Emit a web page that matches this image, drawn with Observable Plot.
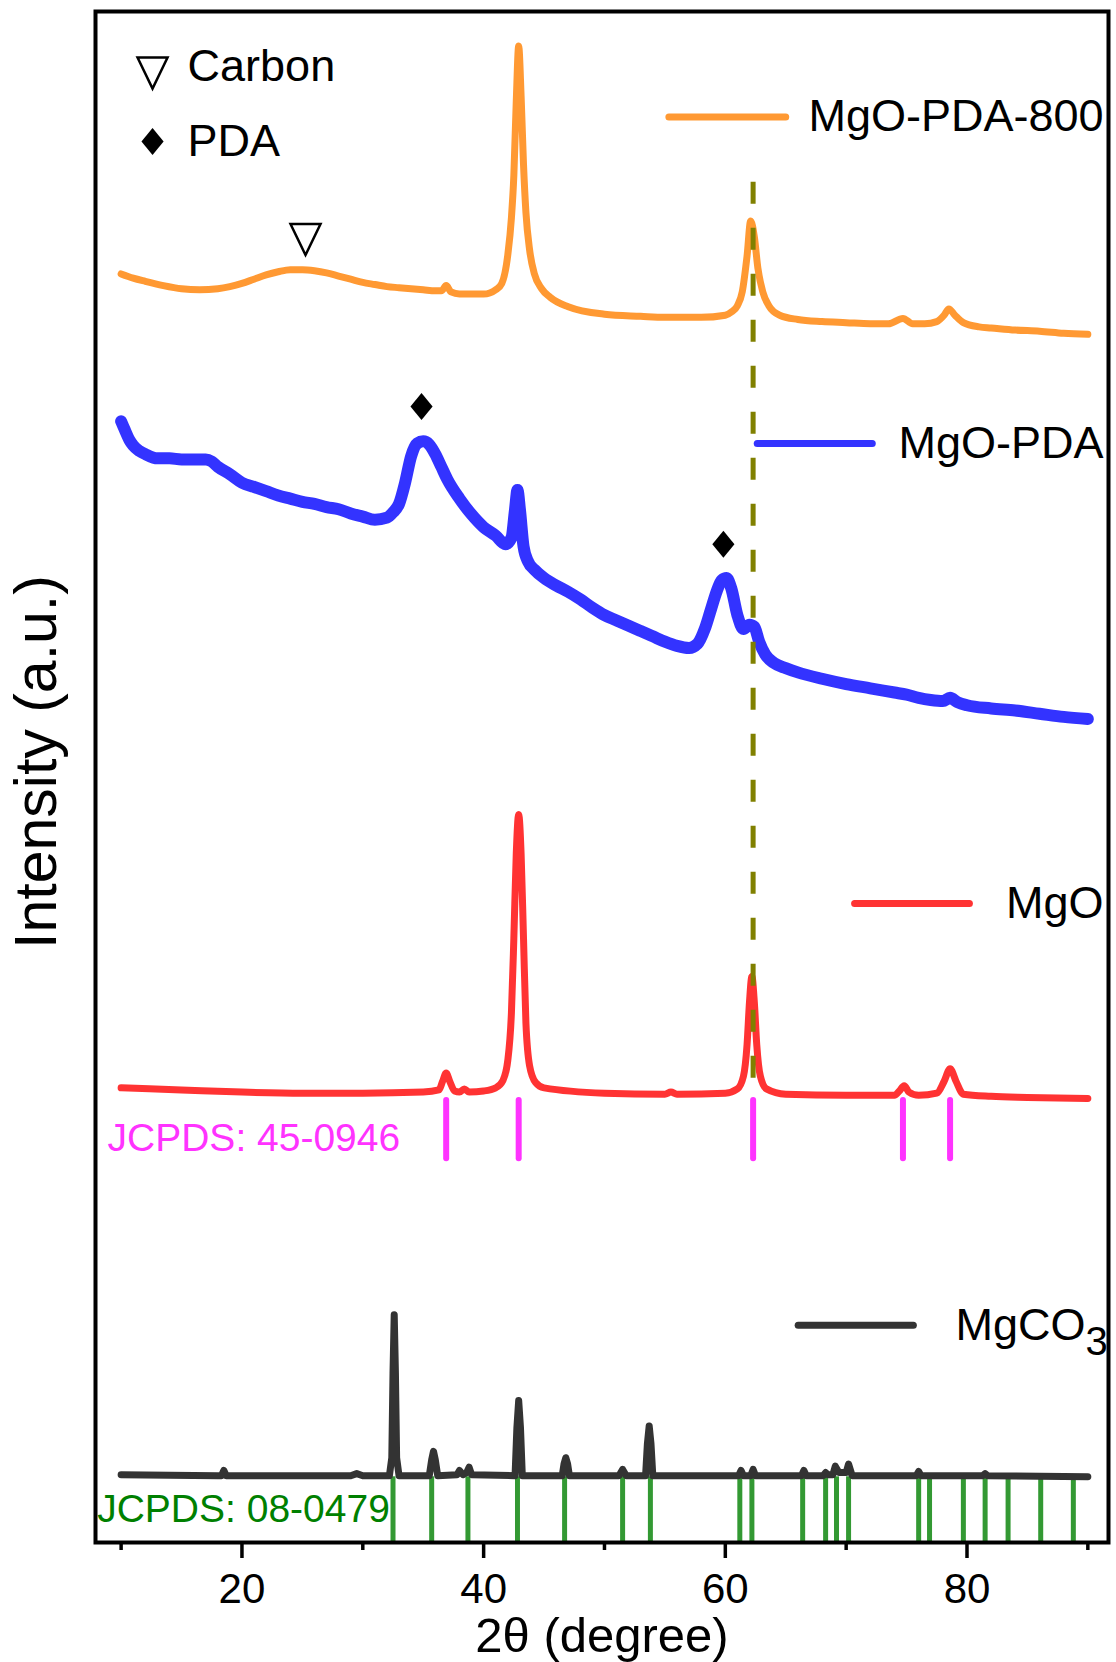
<!DOCTYPE html>
<html>
<head>
<meta charset="utf-8">
<script src="https://cdn.jsdelivr.net/npm/d3@7"></script>
<script src="https://cdn.jsdelivr.net/npm/@observablehq/plot@0.6"></script>
<style>
  html, body { margin: 0; padding: 0; background: #fff; }
</style>
</head>
<body>
<div id="chart"></div>
<script>
// ---------- data (2θ in degrees, intensity in arbitrary units, curves already offset) ----------
const angle800 = [10, 11, 12, 13.5, 15, 16.5, 18, 19, 20, 21, 22, 23, 24, 25, 26, 27, 28, 29, 30, 31, 32, 33, 34, 35, 36, 36.5, 36.9, 37.3, 38, 39, 40, 40.5, 41, 41.5, 42, 42.3, 42.5, 42.7, 42.9, 43.1, 43.3, 43.5, 43.8, 44.2, 44.8, 45.5, 47, 50, 53, 55, 58, 60, 60.5, 61, 61.4, 61.8, 62.1, 62.4, 62.7, 63.1, 63.6, 64.5, 66, 68, 70, 72, 73.5, 74.7, 75.5, 76.5, 77.5, 78.1, 78.5, 79.0, 79.7, 81, 82, 84, 86, 88, 90];
const int800   = [1197, 1193, 1190, 1186, 1183, 1182, 1183, 1185, 1188, 1192, 1196, 1199, 1201, 1201, 1200, 1198, 1195, 1192, 1189, 1187, 1185, 1184, 1183, 1182, 1181, 1181, 1186, 1180, 1178, 1178, 1178, 1179, 1182, 1188, 1215, 1250, 1290, 1360, 1412, 1365, 1300, 1255, 1220, 1197, 1183, 1175, 1166, 1159, 1157, 1156, 1156, 1158, 1161, 1167, 1180, 1214, 1247, 1232, 1202, 1180, 1167, 1158, 1154, 1152, 1151, 1150, 1150, 1155, 1150, 1150, 1152, 1158, 1164, 1158, 1151, 1147, 1146, 1144, 1143, 1141, 1140];

const anglePDA = [10, 10.3, 10.7, 11, 11.5, 12, 13, 14, 15, 16, 17, 17.5, 18, 19, 20, 21, 22, 23, 24, 25, 26, 27, 28, 29, 30, 31, 32, 32.5, 33, 33.5, 34, 34.5, 35, 35.5, 36, 36.5, 37, 38, 39, 40, 41, 41.8, 42.3, 42.6, 42.8, 43.0, 43.3, 43.7, 44.2, 45, 46, 47, 48, 49, 50, 51, 52, 53, 54, 55, 56, 57, 57.7, 58.3, 58.8, 59.3, 59.7, 60.1, 60.5, 61, 61.5, 62, 62.4, 62.8, 63.3, 64, 65, 66, 68, 70, 72, 74, 75, 76, 77, 78, 78.6, 79.2, 80, 82, 84, 86, 88, 90];
const intPDA   = [1058, 1050, 1040, 1035, 1030, 1027, 1023, 1023, 1022, 1022, 1022, 1020, 1015, 1008, 1000, 996, 992, 988, 985, 982, 980, 977, 975, 971, 968, 965, 967, 972, 980, 1000, 1025, 1037, 1039, 1036, 1027, 1015, 1003, 985, 970, 958, 950, 942, 948, 975, 993, 975, 940, 925, 918, 910, 903, 897, 890, 882, 875, 870, 865, 860, 855, 850, 846, 844, 848, 862, 880, 898, 908, 910, 900, 875, 862, 866, 864, 850, 838, 830, 825, 821, 815, 810, 806, 802, 800, 797, 795, 794, 797, 793, 790, 787, 785, 782, 779, 777];

const angleMgO = [10, 15, 20, 25, 30, 35, 36.3, 36.6, 36.9, 37.2, 37.6, 38.0, 38.4, 38.8, 40, 41, 41.6, 42.0, 42.3, 42.5, 42.7, 42.9, 43.1, 43.3, 43.5, 43.8, 44.3, 45, 50, 55, 55.5, 56, 60, 61, 61.5, 61.8, 62.0, 62.2, 62.4, 62.6, 62.9, 63.4, 65, 70, 74, 74.4, 74.8, 75.2, 76, 77.5, 78.1, 78.6, 79.1, 79.7, 82, 85, 90];
const intMgO   = [429, 427, 425, 424, 424, 425, 427, 435, 443, 435, 426, 425, 428, 425, 426, 429, 436, 455, 500, 570, 650, 687, 650, 570, 490, 450, 434, 429, 424, 423, 425, 423, 424, 428, 440, 470, 510, 534, 510, 470, 440, 428, 423, 422, 422, 426, 431, 425, 422, 424, 435, 447, 435, 423, 421, 420, 419];

const angleMgCO3 = [10, 18, 18.3, 18.5, 18.7, 25, 29, 29.5, 30, 32.2, 32.4, 32.5, 32.6, 32.7, 32.8, 33.0, 35.5, 35.7, 35.85, 36.0, 36.2, 37.8, 38.0, 38.3, 38.6, 38.8, 39.0, 42.6, 42.75, 42.9, 43.05, 43.2, 46.5, 46.65, 46.8, 46.95, 47.1, 51.2, 51.5, 51.8, 53.4, 53.55, 53.7, 53.85, 54.0, 61.1, 61.3, 61.5, 62.1, 62.3, 62.5, 66.3, 66.5, 66.7, 68.1, 68.3, 68.5, 68.9, 69.1, 69.4, 70.0, 70.2, 70.5, 75.8, 76.0, 76.2, 81.3, 81.5, 81.7, 90];
const intMgCO3   = [64, 63, 63, 68, 63, 63, 63, 65, 63, 63, 80, 160, 215, 160, 80, 63, 63, 78, 86, 78, 63, 64, 68, 64, 66, 71, 64, 63, 108, 134, 108, 63, 63, 74, 80, 74, 63, 63, 69, 63, 63, 93, 110, 93, 63, 63, 68, 63, 63, 69, 63, 63, 68, 63, 63, 66, 64, 64, 72, 66, 66, 74, 63, 63, 67, 63, 63, 65, 63, 62];

// reference patterns
const peaks45_0946 = [36.9, 42.9, 62.3, 74.7, 78.6];
const peaks08_0479 = [32.5, 35.7, 38.7, 42.8, 46.7, 51.5, 53.8, 61.2, 62.2, 66.4, 68.3, 69.2, 70.2, 76.0, 76.9, 79.7, 81.5, 83.4, 86.1, 88.8];

// phase markers
const carbonAngles = [25.26];
const carbonInts   = [1230];
const pdaAngles    = [34.86, 59.84];
const pdaInts      = [1072, 942];

// series legend
const seriesNames   = ["MgO-PDA-800", "MgO-PDA", "MgO", "MgCO"];
const seriesColors  = ["#ff9933", "#3333ff", "#ff3333", "#333333"];
const legendLineX1  = [55.33, 62.64, 70.7, 66.03];
const legendLineX2  = [65.0, 72.16, 80.2, 75.56];
const legendLevels  = [1345, 1037, 603, 205];
const legendTextEnd = [91.3, 91.3, 91.3, 89.8];

const xTicksMajor = [20, 40, 60, 80];
const xTicksMinor = [10, 30, 50, 70, 90];

// ---------- helpers ----------
const rows = (xs, ys) => xs.map((x, i) => ({x, y: ys[i]}));
const triDown = {draw(ctx, size) { const r = Math.sqrt(size / Math.PI); ctx.moveTo(-r, -r); ctx.lineTo(r, -r); ctx.lineTo(0, r * 1.07); ctx.closePath(); }};
const diamond = {draw(ctx, size) { const r = Math.sqrt(size / Math.PI); ctx.moveTo(0, -r); ctx.lineTo(0.82 * r, 0); ctx.lineTo(0, r); ctx.lineTo(-0.82 * r, 0); ctx.closePath(); }};

const legend = seriesNames.map((name, i) => ({name, color: seriesColors[i], x1: legendLineX1[i], x2: legendLineX2[i], y: legendLevels[i], xt: legendTextEnd[i]}));
const lineStyle = {x: "x", y: "y", curve: "monotone-x", strokeLinecap: "round", strokeLinejoin: "round"};
const FONT = "'Liberation Sans', Arial, Helvetica, sans-serif";

const chart = Plot.plot({
  width: 1116,
  height: 1662,
  marginLeft: 95,
  marginRight: 8,
  marginTop: 11,
  marginBottom: 120,
  x: {domain: [7.88, 91.71], label: null},
  y: {domain: [0, 1444.6], axis: null, label: null},
  style: {fontFamily: FONT, background: "white", color: "black", overflow: "visible"},
  marks: [
    // JCPDS 08-0479 (MgCO3)
    Plot.ruleX(peaks08_0479, {x: d => d, y1: 0, y2: 62, stroke: "#339933", strokeWidth: 5}),
    Plot.line(rows(angleMgCO3, intMgCO3), {...lineStyle, curve: "linear", stroke: seriesColors[3], strokeWidth: 7}),
    // JCPDS 45-0946 (MgO)
    Plot.ruleX(peaks45_0946, {x: d => d, y1: 362, y2: 417, stroke: "#ff33ff", strokeWidth: 6, strokeLinecap: "round"}),
    Plot.line(rows(angleMgO, intMgO), {...lineStyle, stroke: seriesColors[2], strokeWidth: 7}),
    Plot.line(rows(anglePDA, intPDA), {...lineStyle, stroke: seriesColors[1], strokeWidth: 12}),
    Plot.line(rows(angle800, int800), {...lineStyle, stroke: seriesColors[0], strokeWidth: 7}),
    // guide line at the MgO (220) reflection
    Plot.ruleX([62.3], {x: d => d, y1: 438, y2: 1287, stroke: "#808000", strokeWidth: 5, strokeDasharray: "22,24"}),
    // pattern labels
    Plot.text(["JCPDS: 45-0946"], {x: 8.875, y: 381, text: d => d, textAnchor: "start", fontSize: 39, fill: "#ff33ff"}),
    Plot.text(["JCPDS: 08-0479"], {x: 8.02, y: 31, text: d => d, textAnchor: "start", fontSize: 39, fill: "#008000"}),
    // phase markers
    Plot.dot(rows(carbonAngles, carbonInts), {x: "x", y: "y", symbol: triDown, r: 15, fill: "none", stroke: "black", strokeWidth: 2.5}),
    Plot.dot(rows(pdaAngles, pdaInts), {x: "x", y: "y", symbol: diamond, r: 13.5, fill: "black", stroke: "none"}),
    // marker key
    Plot.dot([{x: 12.6, y: 1387}], {x: "x", y: "y", symbol: triDown, r: 15, fill: "none", stroke: "black", strokeWidth: 2.5}),
    Plot.dot([{x: 12.6, y: 1322}], {x: "x", y: "y", symbol: diamond, r: 13.5, fill: "black", stroke: "none"}),
    Plot.text([{x: 15.5, y: 1393, t: "Carbon"}, {x: 15.5, y: 1322, t: "PDA"}], {x: "x", y: "y", text: "t", textAnchor: "start", fontSize: 45, fill: "black"}),
    // series legend
    Plot.link(legend, {x1: "x1", x2: "x2", y1: "y", y2: "y", stroke: "color", strokeWidth: 7, strokeLinecap: "round"}),
    Plot.text(legend, {x: "xt", y: "y", text: "name", textAnchor: "end", fontSize: 45, fill: "black"}),
    Plot.text([{x: 89.8, y: 205}], {x: "x", y: "y", text: () => "3", textAnchor: "start", fontSize: 40, dy: 17, fill: "black"}),
    // axes
    Plot.axisX({ticks: xTicksMinor, tickSize: 8, strokeWidth: 3.5, tickFormat: () => "", label: null}),
    Plot.axisX({ticks: xTicksMajor, tickSize: 16, tickPadding: 15, strokeWidth: 3.5, fontSize: 42, tickFormat: d => String(d), label: null}),
    Plot.text(["2θ (degree)"], {frameAnchor: "bottom", text: d => d, lineAnchor: "middle", textAnchor: "middle", dy: 94, fontSize: 49, fill: "black"}),
    Plot.text(["Intensity (a.u.)"], {frameAnchor: "left", text: d => d, rotate: -90, textAnchor: "middle", lineAnchor: "middle", dx: -58, dy: -15, fontSize: 59, fill: "black"}),
    Plot.frame({stroke: "black", strokeWidth: 4})
  ]
});
document.getElementById("chart").appendChild(chart);
</script>
</body>
</html>
